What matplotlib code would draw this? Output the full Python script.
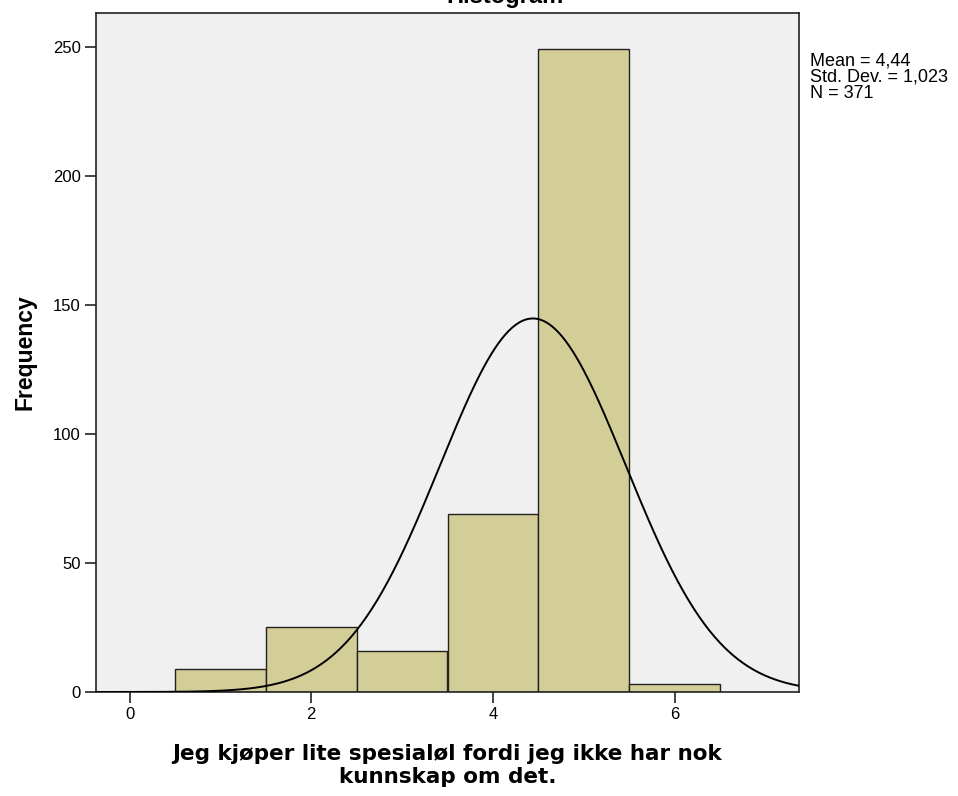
import numpy as np
import matplotlib.pyplot as plt

# histogram counts per response value (1..6)
values = [1, 2, 3, 4, 5, 6]
counts = [9, 25, 16, 69, 249, 3]
mean = 4.44
std = 1.023
n = 371
xticks = [0, 2, 4, 6]
yticks = [0, 50, 100, 150, 200, 250]

plt.rcParams['font.family'] = ['Liberation Sans', 'DejaVu Sans']

fig = plt.figure(figsize=(9.58, 7.96), dpi=100)
ax = fig.add_axes([96 / 958, 1 - 692 / 796, (799 - 96) / 958, (692 - 13) / 796])
ax.set_facecolor('#f0f0f0')

ax.bar(values, counts, width=1.0, color='#d3ce98', edgecolor='#222222', linewidth=1.0, zorder=2)

xs = np.linspace(-0.4, 7.4, 400)
curve = n * 1.0 / (std * np.sqrt(2 * np.pi)) * np.exp(-0.5 * ((xs - mean) / std) ** 2)
ax.plot(xs, curve, color='black', linewidth=1.4, zorder=3)

ax.set_xlim(-0.37, 7.37)
ax.set_ylim(0, 263)
ax.set_xticks(xticks)
ax.set_yticks(yticks)
ax.tick_params(labelsize=12, length=8, width=1.2, color='#222222', pad=3)
for s in ax.spines.values():
    s.set_linewidth(1.2)
    s.set_color('#222222')

ax.set_ylabel('Frequency', fontsize=16.5, fontweight='bold', labelpad=12)
ax.set_xlabel('Jeg kjøper lite spesialøl fordi jeg ikke har nok\nkunnskap om det.',
              fontsize=15.5, fontweight='bold', labelpad=16, linespacing=1.15,
              family='DejaVu Sans')

# title sits partly above the top edge, as in the reference
fig.text(505 / 958, 1 + 4 / 796, 'Histogram', ha='center', va='center', fontsize=17, fontweight='bold')

fig.text(810 / 958, 1 - 53 / 796, 'Mean = 4,44\nStd. Dev. = 1,023\nN = 371',
         ha='left', va='top', fontsize=13, linespacing=0.92)

fig.savefig('out.png', dpi=100)
